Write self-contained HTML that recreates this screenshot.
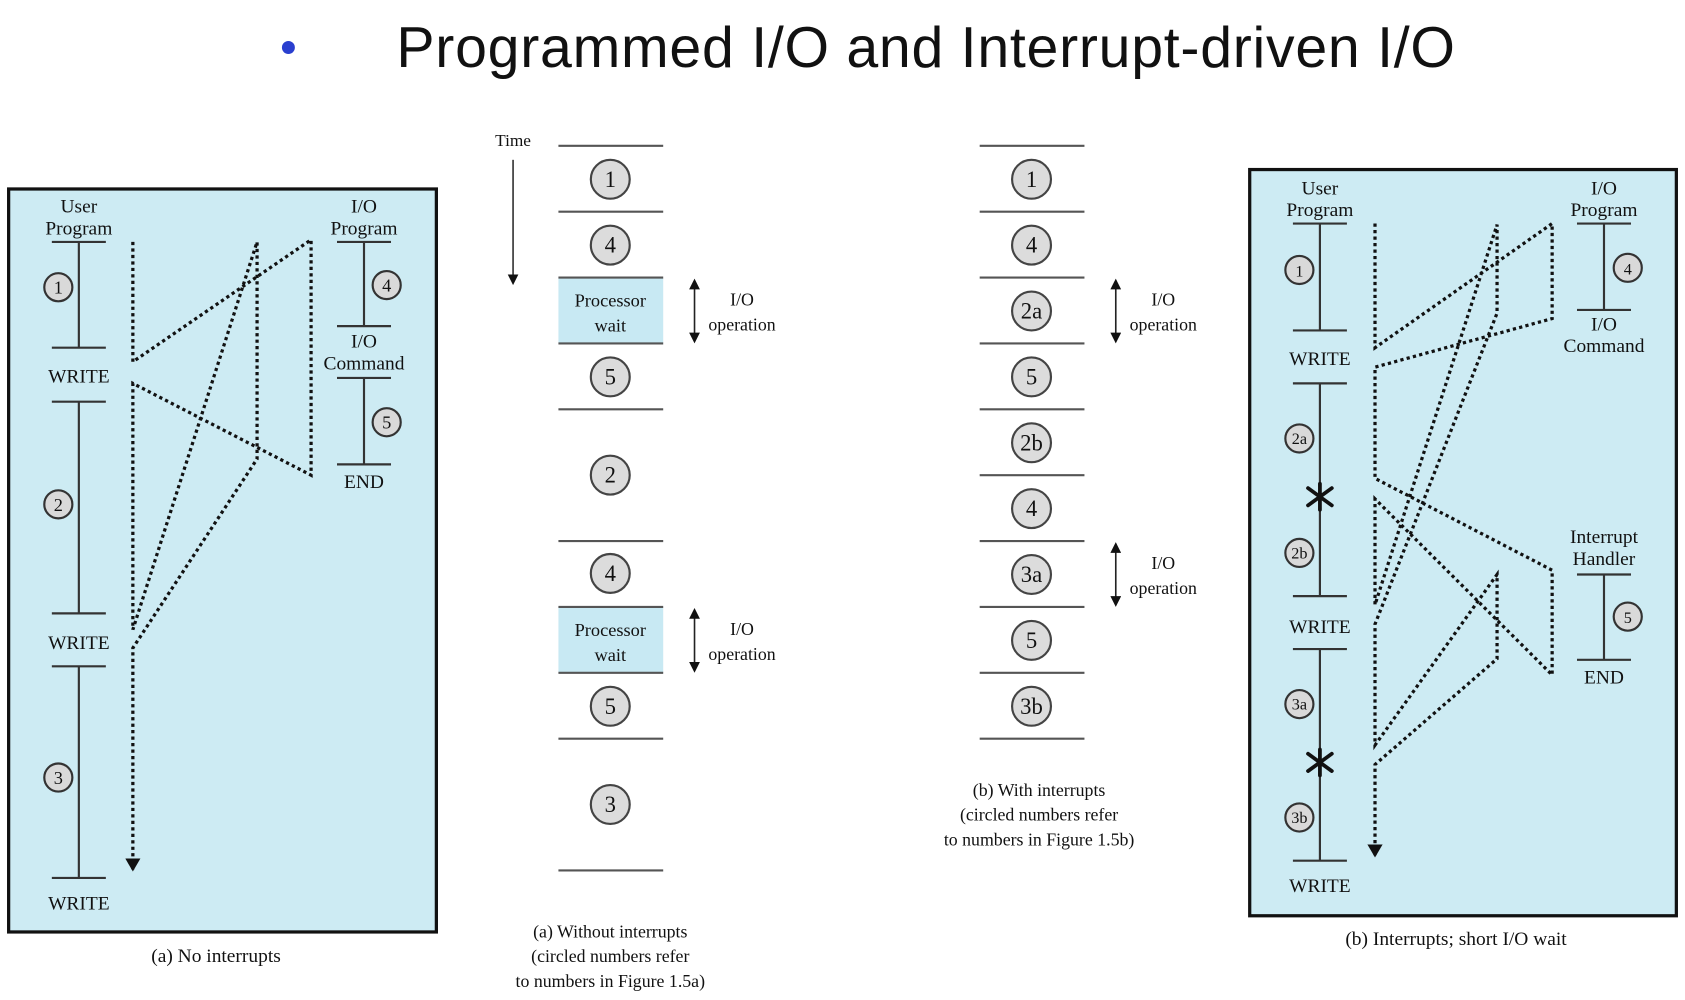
<!DOCTYPE html>
<html><head><meta charset="utf-8"><style>
html,body{margin:0;padding:0;background:#fff;}
svg{display:block;}
text{font-family:"Liberation Serif",serif;fill:#111;}
.t{font-size:18px;text-anchor:middle;}
.d{stroke:#111;stroke-width:3;stroke-dasharray:3 3;fill:none;}
.s{stroke:#333;stroke-width:2;fill:none;}
</style></head><body>
<svg width="1685" height="1000" viewBox="0 0 1560 926" preserveAspectRatio="none" xmlns="http://www.w3.org/2000/svg">
<defs>
<marker id="ah" markerWidth="10" markerHeight="10" refX="8" refY="5" orient="auto-start-reverse" markerUnits="userSpaceOnUse"><path d="M0,0 L10,5 L0,10 z" fill="#111"/></marker>
<marker id="a2" markerWidth="14" markerHeight="14" refX="10" refY="7" orient="auto" markerUnits="userSpaceOnUse"><path d="M0,0 L12,7 L0,14 z" fill="#111"/></marker>
</defs>
<circle cx="267" cy="44" r="6" fill="#2a3fcf"/>
<text x="367" y="62" style="font-family:'Liberation Sans',sans-serif;font-size:53px" textLength="980">Programmed I/O and Interrupt-driven I/O</text>

<rect x="8" y="175" width="396" height="688" fill="#cdebf3" stroke="#111" stroke-width="3"/>
<text class="t" x="73" y="197">User</text><text class="t" x="73" y="217">Program</text>
<g class="s"><path d="M48 224H98M73 224V322M48 322H98M48 372H98M73 372V568M48 568H98M48 617H98M73 617V813M48 813H98"/>
<path d="M312 224H362M337 224V302M312 302H362M312 350H362M337 350V430M312 430H362"/></g>
<text class="t" x="73" y="354">WRITE</text><text class="t" x="73" y="601">WRITE</text><text class="t" x="73" y="842">WRITE</text>
<text class="t" x="337" y="197">I/O</text><text class="t" x="337" y="217">Program</text>
<text class="t" x="337" y="322">I/O</text><text class="t" x="337" y="342">Command</text>
<text class="t" x="337" y="452">END</text>
<g fill="#d9d9d9" stroke="#333" stroke-width="2"><circle cx="54" cy="266" r="13"/><circle cx="54" cy="467" r="13"/><circle cx="54" cy="720" r="13"/><circle cx="358" cy="264" r="13"/><circle cx="358" cy="391" r="13"/></g>
<g style="font-size:17px" text-anchor="middle"><text x="54" y="272">1</text><text x="54" y="473">2</text><text x="54" y="726">3</text><text x="358" y="270">4</text><text x="358" y="397">5</text></g>
<path class="d" d="M123 224V335L288 222V440L123 355V583L238 224V425L123 600V805" marker-end="url(#a2)"/>
<text class="t" x="200" y="891">(a) No interrupts</text>

<text x="475" y="135" style="font-size:16px" text-anchor="middle">Time</text>
<line x1="475" y1="148" x2="475" y2="262" stroke="#333" stroke-width="1.5" marker-end="url(#ah)"/>
<rect x="517" y="257" width="97" height="61" fill="#c8e9f3"/>
<rect x="517" y="562" width="97" height="61" fill="#c8e9f3"/>
<g stroke="#555" stroke-width="2"><path d="M517 135H614M517 196H614M517 257H614M517 318H614M517 379H614M517 501H614M517 562H614M517 623H614M517 684H614M517 806H614"/>
<path d="M907 135H1004M907 196H1004M907 257H1004M907 318H1004M907 379H1004M907 440H1004M907 501H1004M907 562H1004M907 623H1004M907 684H1004"/></g>
<g fill="#dcdcdc" stroke="#444" stroke-width="2">
<circle cx="565" cy="166" r="18"/><circle cx="565" cy="227" r="18"/><circle cx="565" cy="349" r="18"/><circle cx="565" cy="440" r="18"/><circle cx="565" cy="531" r="18"/><circle cx="565" cy="654" r="18"/><circle cx="565" cy="745" r="18"/>
<circle cx="955" cy="166" r="18"/><circle cx="955" cy="227" r="18"/><circle cx="955" cy="288" r="18"/><circle cx="955" cy="349" r="18"/><circle cx="955" cy="410" r="18"/><circle cx="955" cy="471" r="18"/><circle cx="955" cy="532" r="18"/><circle cx="955" cy="593" r="18"/><circle cx="955" cy="654" r="18"/></g>
<g style="font-size:21px" text-anchor="middle">
<text x="565" y="173">1</text><text x="565" y="234">4</text><text x="565" y="356">5</text><text x="565" y="447">2</text><text x="565" y="538">4</text><text x="565" y="661">5</text><text x="565" y="752">3</text>
<text x="955" y="173">1</text><text x="955" y="234">4</text><text x="955" y="295">2a</text><text x="955" y="356">5</text><text x="955" y="417">2b</text><text x="955" y="478">4</text><text x="955" y="539">3a</text><text x="955" y="600">5</text><text x="955" y="661">3b</text></g>
<g style="font-size:17px" text-anchor="middle"><text x="565" y="284">Processor</text><text x="565" y="307">wait</text><text x="565" y="589">Processor</text><text x="565" y="612">wait</text></g>
<g stroke="#222" stroke-width="1.5"><line x1="643" y1="260" x2="643" y2="316" marker-start="url(#ah)" marker-end="url(#ah)"/><line x1="643" y1="565" x2="643" y2="621" marker-start="url(#ah)" marker-end="url(#ah)"/>
<line x1="1033" y1="260" x2="1033" y2="316" marker-start="url(#ah)" marker-end="url(#ah)"/><line x1="1033" y1="504" x2="1033" y2="560" marker-start="url(#ah)" marker-end="url(#ah)"/></g>
<g style="font-size:16.5px" text-anchor="middle"><text x="687" y="283">I/O</text><text x="687" y="306">operation</text><text x="687" y="588">I/O</text><text x="687" y="611">operation</text>
<text x="1077" y="283">I/O</text><text x="1077" y="306">operation</text><text x="1077" y="527">I/O</text><text x="1077" y="550">operation</text>
<text x="565" y="868">(a) Without interrupts</text><text x="565" y="891">(circled numbers refer</text><text x="565" y="914">to numbers in Figure 1.5a)</text>
<text x="962" y="737">(b) With interrupts</text><text x="962" y="760">(circled numbers refer</text><text x="962" y="783">to numbers in Figure 1.5b)</text></g>

<rect x="1157" y="157" width="395" height="691" fill="#cdebf3" stroke="#111" stroke-width="3"/>
<text class="t" x="1222" y="180">User</text><text class="t" x="1222" y="200">Program</text>
<g class="s"><path d="M1197 207H1247M1222 207V306M1197 306H1247M1197 355H1247M1222 355V552M1197 552H1247M1197 601H1247M1222 601V797M1197 797H1247"/>
<path d="M1460 207H1510M1485 207V287M1460 287H1510M1460 532H1510M1485 532V611M1460 611H1510"/></g>
<text class="t" x="1222" y="338">WRITE</text><text class="t" x="1222" y="586">WRITE</text><text class="t" x="1222" y="826">WRITE</text>
<text class="t" x="1485" y="180">I/O</text><text class="t" x="1485" y="200">Program</text>
<text class="t" x="1485" y="306">I/O</text><text class="t" x="1485" y="326">Command</text>
<text class="t" x="1485" y="503">Interrupt</text><text class="t" x="1485" y="523">Handler</text>
<text class="t" x="1485" y="633">END</text>
<g stroke="#111" stroke-width="3.5" stroke-linecap="round"><path d="M1222 448V472M1211 452L1233 468M1211 468L1233 452"/><path d="M1222 694V718M1211 698L1233 714M1211 714L1233 698"/></g>
<g fill="#d9d9d9" stroke="#333" stroke-width="2"><circle cx="1203" cy="250" r="13"/><circle cx="1203" cy="406" r="13"/><circle cx="1203" cy="512" r="13"/><circle cx="1203" cy="652" r="13"/><circle cx="1203" cy="757" r="13"/><circle cx="1507" cy="248" r="13"/><circle cx="1507" cy="571" r="13"/></g>
<g style="font-size:15px" text-anchor="middle"><text x="1203" y="256">1</text><text x="1203" y="411">2a</text><text x="1203" y="517">2b</text><text x="1203" y="657">3a</text><text x="1203" y="762">3b</text><text x="1507" y="254">4</text><text x="1507" y="577">5</text></g>
<path class="d" d="M1273 207V322L1437 207V295L1273 340V443L1437 528V625L1273 462V560L1386 208V290L1273 578V690L1386 532V610L1273 708V792" marker-end="url(#a2)"/>
<text class="t" x="1348" y="875">(b) Interrupts; short I/O wait</text>
</svg>
</body></html>
